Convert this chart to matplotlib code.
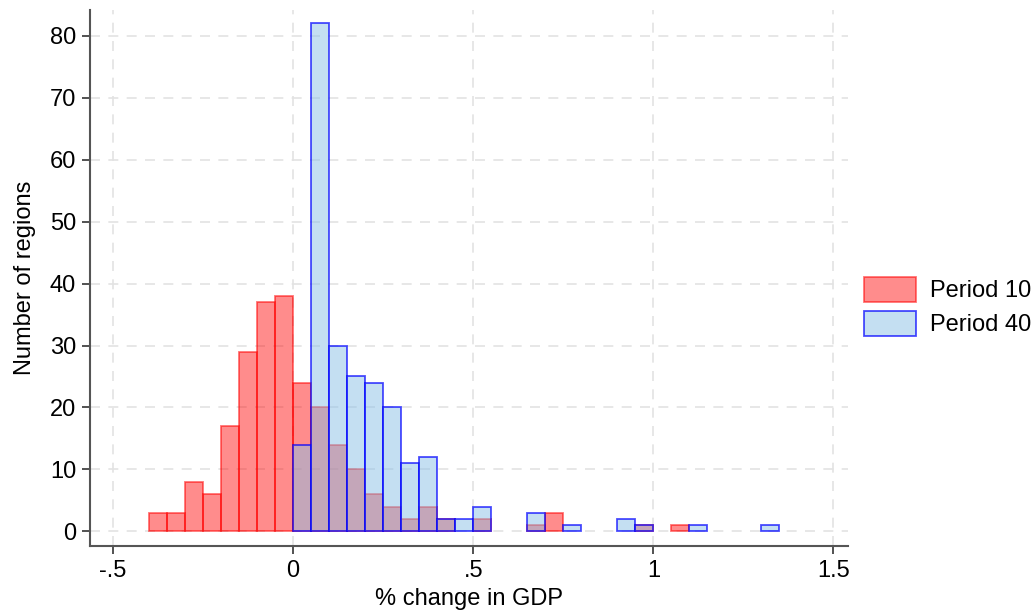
import numpy as np
import matplotlib
matplotlib.use('Agg')
import matplotlib.pyplot as plt

# bin left edges (width 0.05) and counts per period
bin_width = 0.05
bin_left = [-0.40, -0.35, -0.30, -0.25, -0.20, -0.15, -0.10, -0.05,
            0.00, 0.05, 0.10, 0.15, 0.20, 0.25, 0.30, 0.35, 0.40, 0.45,
            0.50, 0.55, 0.60, 0.65, 0.70, 0.75, 0.80, 0.85, 0.90, 0.95,
            1.00, 1.05, 1.10, 1.15, 1.20, 1.25, 1.30]
period10 = [3, 3, 8, 6, 17, 29, 37, 38,
            24, 20, 14, 10, 6, 4, 2, 4, 2, 0,
            2, 0, 0, 1, 3, 0, 0, 0, 0, 1,
            0, 1, 0, 0, 0, 0, 0]
period40 = [0, 0, 0, 0, 0, 0, 0, 0,
            14, 82, 30, 25, 24, 20, 11, 12, 2, 2,
            4, 0, 0, 3, 0, 1, 0, 0, 2, 1,
            0, 0, 1, 0, 0, 0, 1]
x_ticks = [-0.5, 0, 0.5, 1, 1.5]
x_ticklabels = ['-.5', '0', '.5', '1', '1.5']
y_ticks = [0, 10, 20, 30, 40, 50, 60, 70, 80]

plt.rcParams['font.family'] = ['Liberation Sans', 'DejaVu Sans']

fig = plt.figure(figsize=(10.34, 6.13), dpi=100)
ax = fig.add_axes([0.087, 0.109, 0.733, 0.875])

def draw(counts, face, edge, label):
    x = np.array(bin_left)
    h = np.array(counts)
    keep = h > 0
    bars = ax.bar(x[keep], h[keep], width=bin_width, align='edge',
                  color=face, edgecolor=edge, linewidth=1.3, label=label, zorder=3)
    return bars

draw(period10, (1, 0, 0, 0.45), (1, 0, 0, 0.55), 'Period 10')
draw(period40, (0.545, 0.757, 0.906, 0.5), (0, 0, 1, 0.7), 'Period 40')

ax.set_xlim(-0.564, 1.54)
ax.set_ylim(-2.4, 84.2)
ax.set_xticks(x_ticks)
ax.set_xticklabels(x_ticklabels)
ax.set_yticks(y_ticks)
ax.tick_params(labelsize=17, length=6, width=1.2, color='#333333', pad=4)

ax.grid(True, color='#e3e3e3', linestyle=(0, (6, 5)), linewidth=1.2, zorder=0)
ax.set_axisbelow(True)
for s in ['top', 'right']:
    ax.spines[s].set_visible(False)
for s in ['left', 'bottom']:
    ax.spines[s].set_color('#555555')
    ax.spines[s].set_linewidth(1.5)

ax.set_xlabel('% change in GDP', fontsize=17, labelpad=4)
ax.set_ylabel('Number of regions', fontsize=17, labelpad=10)

fig.legend(loc='center left', bbox_to_anchor=(864 / 1034, 0.5), frameon=False,
           fontsize=17, handlelength=2.2, handleheight=1.25, labelspacing=0.35,
           handletextpad=0.6, borderpad=0, borderaxespad=0)

fig.savefig('out.png', dpi=100)
